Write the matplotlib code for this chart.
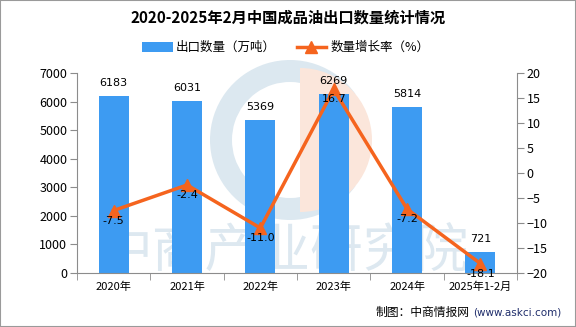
import numpy as np
import matplotlib.pyplot as plt
from matplotlib.patches import Wedge, Rectangle

plt.rcParams['font.family'] = ['Noto Sans CJK SC', 'DejaVu Sans']

years = ['2020年', '2021年', '2022年', '2023年', '2024年', '2025年1-2月']
volume = [6183, 6031, 5369, 6269, 5814, 721]
growth = [-7.5, -2.4, -11.0, 16.7, -7.2, -18.1]

bar_color = '#3d9bf2'
line_color = '#f5641e'
grey = '#8c8c8c'

fig = plt.figure(figsize=(5.76, 3.27), dpi=100)
fig.patches.append(Rectangle((0, 0), 1, 1, transform=fig.transFigure, fill=False,
                             edgecolor='#9a9a9a', linewidth=1.5))

# watermark behind everything (rough logo + text)
bg = fig.add_axes([0, 0, 1, 1], zorder=-1)
bg.set_axis_off()
bg.set_xlim(0, 576)
bg.set_ylim(327, 0)
bg.add_patch(Wedge((290, 140), 80, 35, 325, width=22, facecolor='#dce8f0', edgecolor='none'))
bg.add_patch(Wedge((300, 140), 72, -90, 90, width=72, facecolor='#fbe6db', edgecolor='none'))
bg.text(285, 252, '中商产业研究院', fontsize=38, color='#dde8f0', ha='center', va='center')

ax = fig.add_axes([0.1337, 0.165, 0.764, 0.612])
ax.patch.set_alpha(0)
x = np.arange(len(years))
ax.bar(x, volume, width=0.41, color=bar_color, zorder=2)
ax.set_ylim(0, 7000)
ax.set_yticks(range(0, 7001, 1000))
ax.set_xlim(-0.5, len(years) - 0.5)
ax.set_xticks(x)
ax.set_xticklabels(years)
ax.set_xticks(np.arange(-0.5, len(years), 1), minor=True)
ax.tick_params(axis='x', which='major', length=0, pad=6, labelsize=8)
ax.tick_params(axis='x', which='minor', length=5, color=grey, direction='out')
ax.tick_params(axis='y', length=5, color=grey, labelsize=9, pad=2)
for s in ['top', 'right']:
    ax.spines[s].set_visible(False)
for s in ['left', 'bottom']:
    ax.spines[s].set_color(grey)
for xi, v in zip(x, volume):
    ax.annotate(str(v), (xi, v), xytext=(0, 8), textcoords='offset pixels',
                ha='center', va='bottom', fontsize=8, family='DejaVu Sans')

ax2 = ax.twinx()
ax2.set_ylim(-20, 20)
ax2.set_yticks(range(-20, 21, 5))
ax2.set_yticklabels([str(t).replace('-', '\u2212') for t in range(-20, 21, 5)])
ax2.tick_params(axis='y', length=5, color=grey, labelsize=9, pad=2)
for s in ['top', 'left', 'bottom']:
    ax2.spines[s].set_visible(False)
ax2.spines['right'].set_color(grey)
ax2.plot(x, growth, color=line_color, linewidth=2.5, marker='^', markersize=8, zorder=3)
for xi, g in zip(x, growth):
    ax2.annotate(f'{g:.1f}', (xi, g), xytext=(0, -10), textcoords='offset pixels',
                 ha='center', va='center', fontsize=8, family='DejaVu Sans', zorder=4)

fig.text(0.5, 0.945, '2020-2025年2月中国成品油出口数量统计情况', ha='center', va='center',
         fontsize=11, fontweight='bold')

# legend
fig.patches.append(Rectangle((0.247, 0.840), 0.053, 0.032, transform=fig.transFigure,
                             facecolor=bar_color, edgecolor='none'))
fig.text(0.305, 0.856, '出口数量（万吨）', fontsize=9, va='center')
fig.lines.append(plt.Line2D([0.515, 0.566], [0.856, 0.856], transform=fig.transFigure,
                            color=line_color, linewidth=2.5))
fig.lines.append(plt.Line2D([0.5405], [0.856], transform=fig.transFigure,
                            color=line_color, marker='^', markersize=8, linestyle='none'))
fig.text(0.573, 0.856, '数量增长率（%）', fontsize=9, va='center')

fig.text(0.975, 0.045, '(www.askci.com)', fontsize=7.5, va='center', ha='right',
         color='#1f2d6b', family='DejaVu Sans')
fig.text(0.815, 0.045, '制图：中商情报网', fontsize=8.5, va='center', ha='right')

fig.savefig('out.png', dpi=100)
